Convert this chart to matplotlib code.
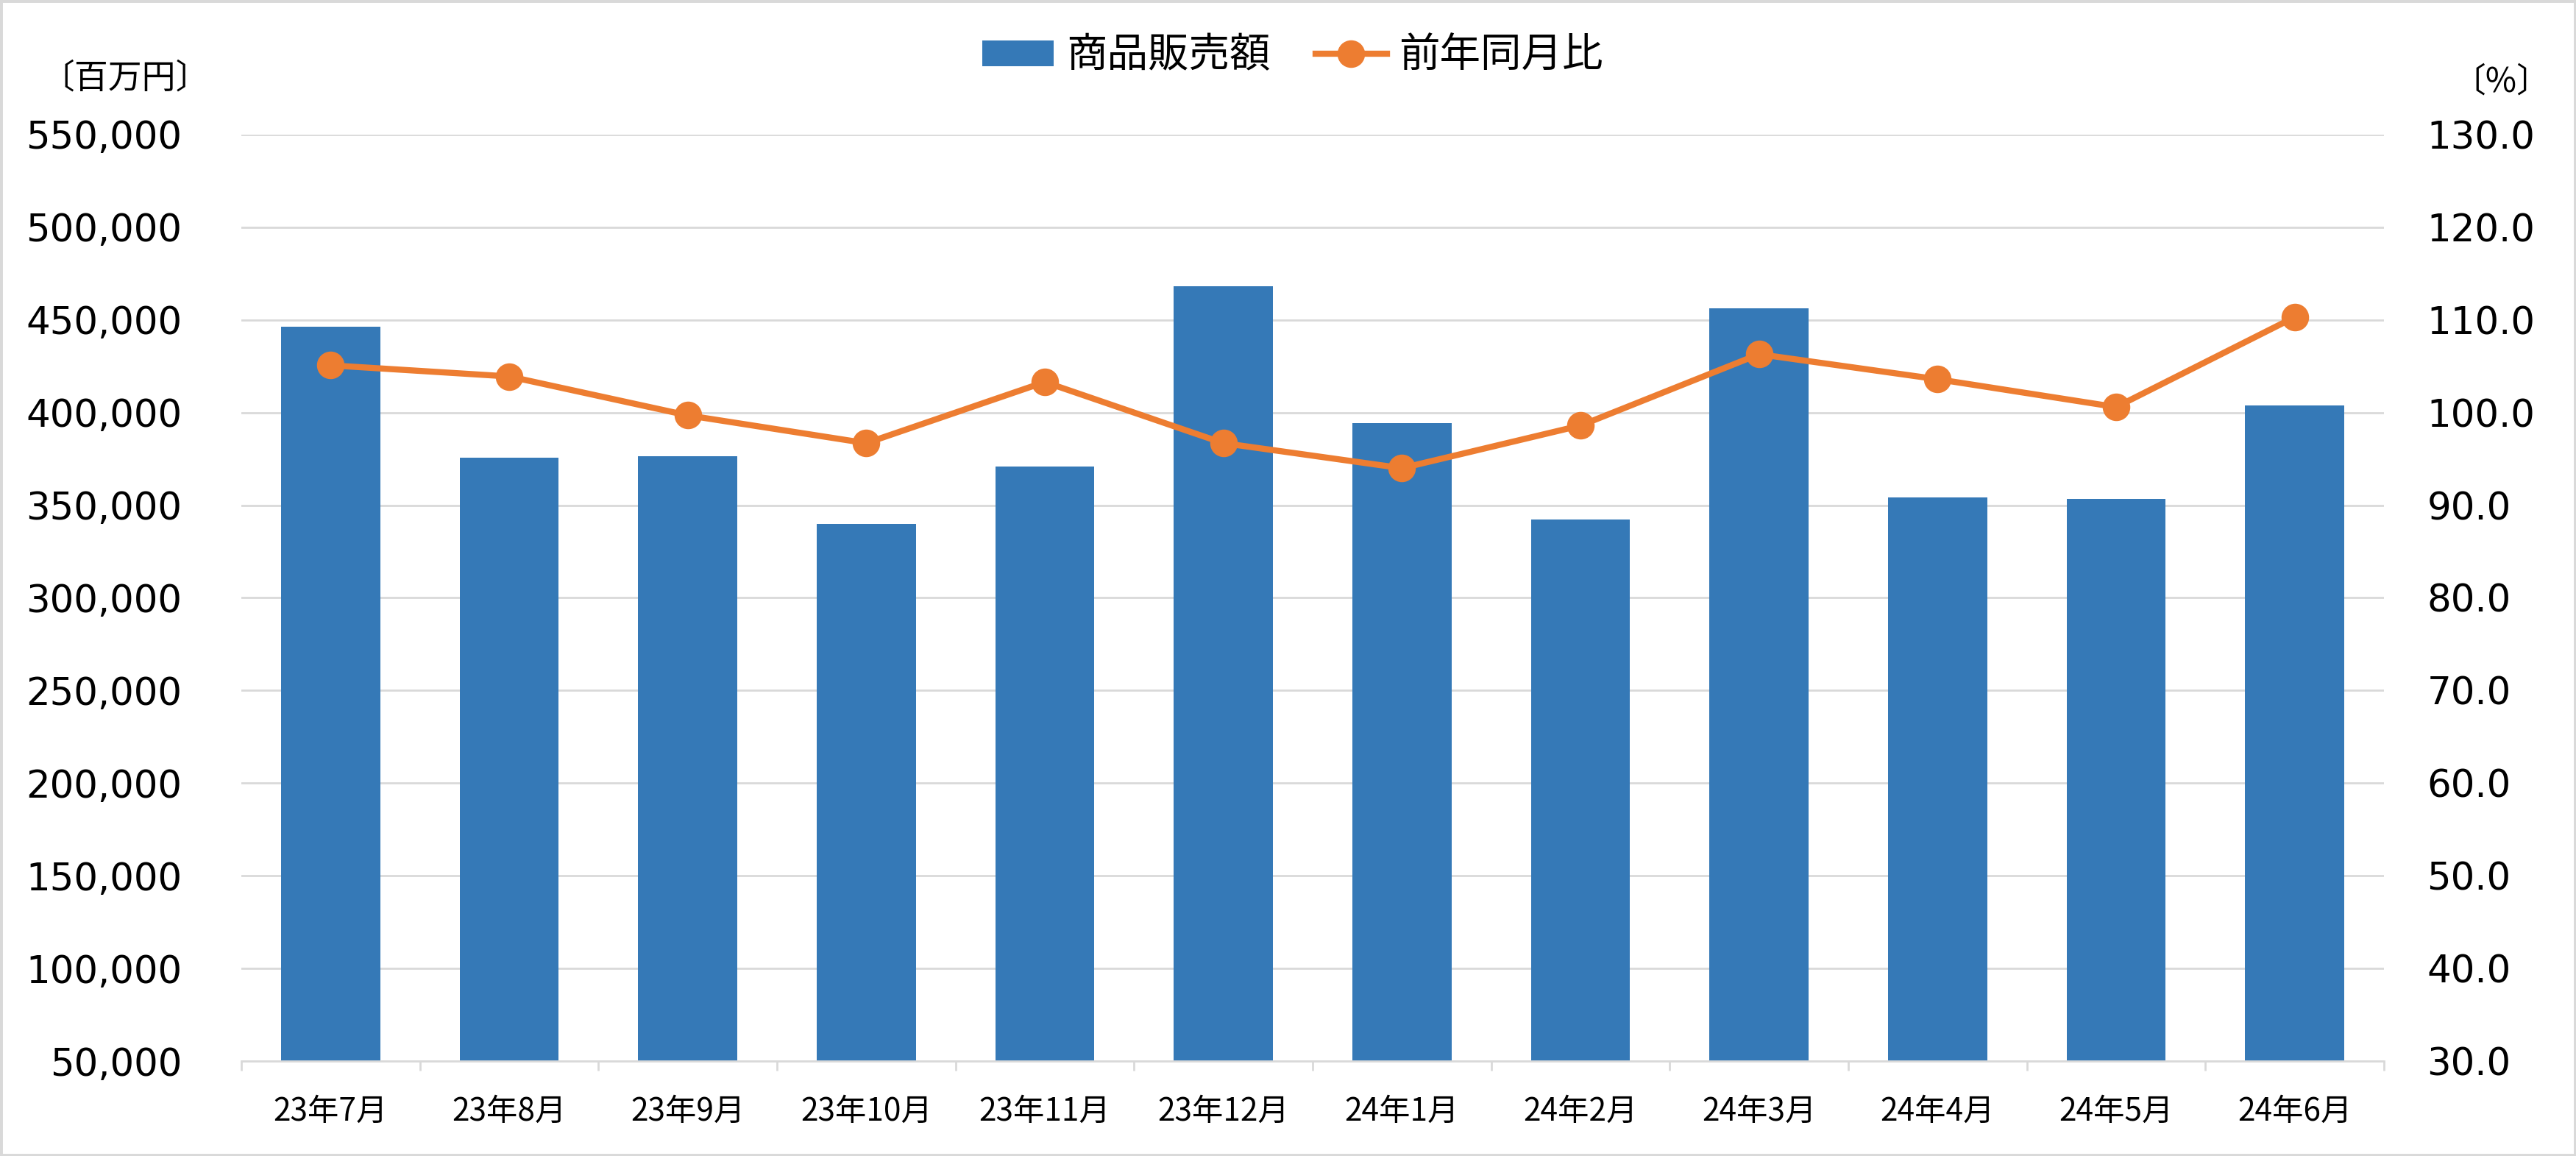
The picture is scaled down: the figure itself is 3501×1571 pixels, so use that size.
import matplotlib
matplotlib.use("Agg")
import matplotlib.pyplot as plt
from matplotlib.ticker import FuncFormatter, FixedLocator
from matplotlib.patches import Rectangle, Patch
from matplotlib.lines import Line2D

plt.rcParams['font.family'] = ['Noto Sans CJK JP', 'DejaVu Sans']

months = ["23年7月", "23年8月", "23年9月", "23年10月", "23年11月", "23年12月",
          "24年1月", "24年2月", "24年3月", "24年4月", "24年5月", "24年6月"]
sales = [446200, 375500, 376300, 339800, 370700, 468000,
         394200, 342100, 456100, 354100, 353300, 403700]
yoy = [105.1, 103.9, 99.7, 96.7, 103.3, 96.7,
       94.0, 98.6, 106.3, 103.6, 100.6, 110.3]
left_ticks = [50000, 100000, 150000, 200000, 250000, 300000,
              350000, 400000, 450000, 500000, 550000]
right_ticks = [30, 40, 50, 60, 70, 80, 90, 100, 110, 120, 130]

BLUE = "#3579B7"
ORANGE = "#ED7D31"
GRID = "#D9D9D9"

W, H = 3501, 1571
fig = plt.figure(figsize=(W / 100, H / 100), dpi=100)
ax = fig.add_axes([328 / W, 1 - 1442 / H, (3240 - 328) / W, (1442 - 183) / H])
ax2 = ax.twinx()

x = list(range(len(months)))
ax.bar(x, [s - left_ticks[0] for s in sales], bottom=left_ticks[0], width=0.556,
       color=BLUE, zorder=2)
ax.set_xlim(-0.5, len(months) - 0.5)
ax.set_ylim(left_ticks[0], left_ticks[-1])
ax.set_yticks(left_ticks)
ax.yaxis.set_major_formatter(FuncFormatter(lambda v, p: f"{int(v):,}"))
ax.grid(axis='y', color=GRID, linewidth=2, zorder=0)
ax.set_axisbelow(True)
for s in ['top', 'left', 'right']:
    ax.spines[s].set_visible(False)
ax.spines['bottom'].set_color(GRID)
ax.spines['bottom'].set_linewidth(2)
ax.set_xticks(x)
ax.set_xticklabels(months, fontsize=30.5)
ax.xaxis.set_minor_locator(FixedLocator([i - 0.5 for i in range(len(months) + 1)]))
ax.tick_params(axis='x', which='major', length=0, pad=34)
ax.tick_params(axis='x', which='minor', length=9.4, width=2, color=GRID)
ax.tick_params(axis='y', length=0, pad=58)
for lab in ax.get_yticklabels():
    lab.set_fontfamily('DejaVu Sans')
    lab.set_fontsize(37)

ax2.plot(x, yoy, color=ORANGE, linewidth=6, marker='o', markersize=26, zorder=3)
ax2.set_ylim(right_ticks[0], right_ticks[-1])
ax2.set_yticks(right_ticks)
ax2.yaxis.set_major_formatter(FuncFormatter(lambda v, p: f"{v:.1f}"))
for s in ax2.spines.values():
    s.set_visible(False)
ax2.tick_params(axis='y', length=0, pad=42)
for lab in ax2.get_yticklabels():
    lab.set_fontfamily('DejaVu Sans')
    lab.set_fontsize(37)

handles = [Patch(facecolor=BLUE, edgecolor='none'),
           Line2D([0], [0], color=ORANGE, linewidth=6, marker='o', markersize=26)]
fig.legend(handles, ["商品販売額", "前年同月比"], loc='center',
           bbox_to_anchor=(1757 / W, 1 - 76 / H), ncol=2, frameon=False,
           fontsize=40, handlelength=1.75, handleheight=0.6, handletextpad=0.3,
           columnspacing=1.1)

fig.text(170 / W, 1 - 106 / H, "〔百万円〕", ha='center', va='center', fontsize=33)
fig.text(3399 / W, 1 - 111 / H, "〔%〕", ha='center', va='center', fontsize=33)

fig.patches.append(Rectangle((0, 0), 1, 1, transform=fig.transFigure, fill=False,
                             edgecolor=GRID, linewidth=5))

fig.savefig("out.png", dpi=100)
